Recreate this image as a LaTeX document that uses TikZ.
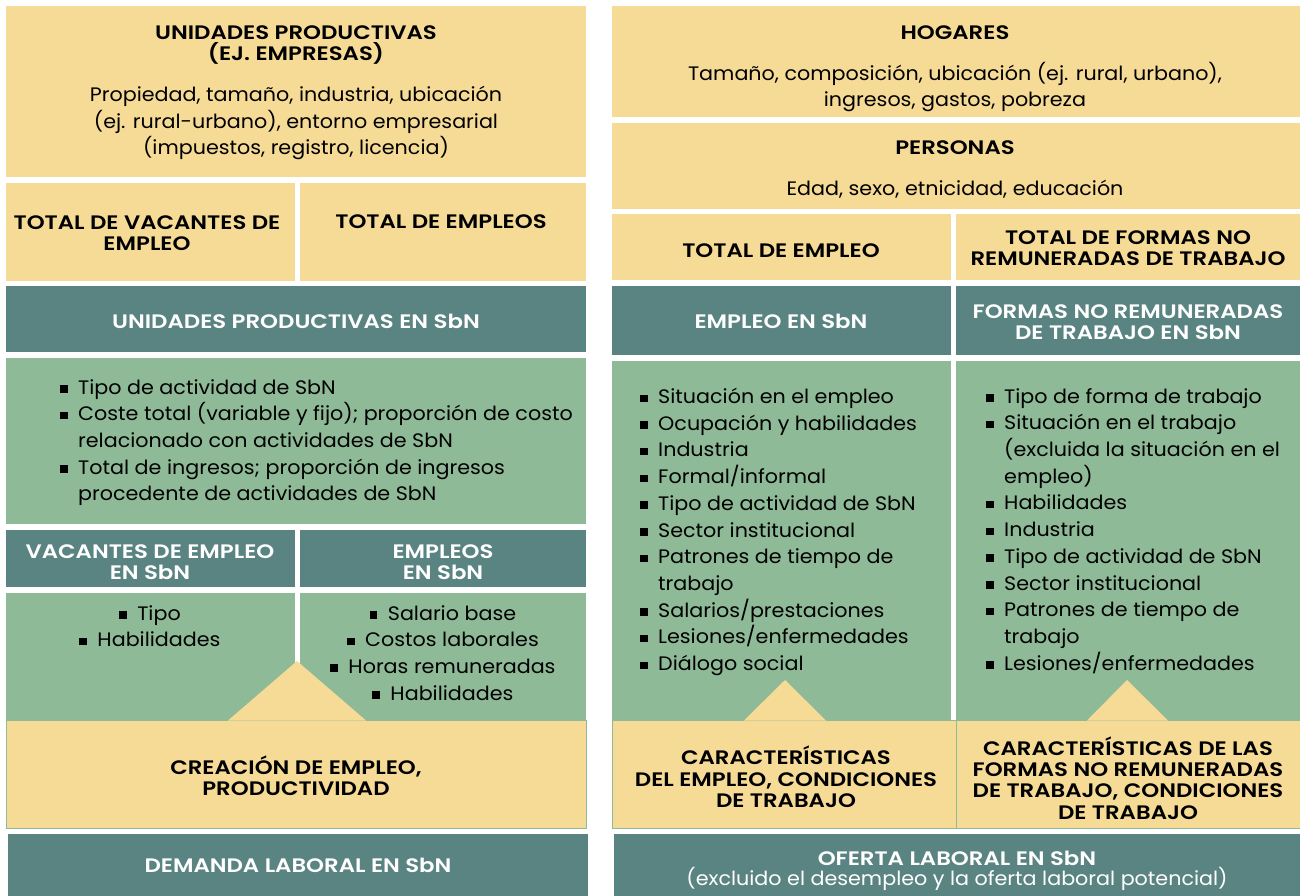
\documentclass[tikz,border=0pt]{standalone}
\usepackage{fontspec}
\setmainfont{Poppins}[FakeStretch=1.06, BoldFont={Poppins SemiBold}, BoldFeatures={FakeStretch=1.17}]
\usepackage{tikz}

\definecolor{sbncream}{HTML}{F6DB97}
\definecolor{sbnteal}{HTML}{5A8482}
\definecolor{sbngreen}{HTML}{8FBA98}

\newcommand{\sq}{\makebox[18pt][l]{\rule[1.5pt]{7.5pt}{7.5pt}}}
\newcommand{\cont}{\hspace*{18pt}}

\tikzset{
  cbox/.style={fill=sbncream, anchor=north west, inner sep=0pt, outer sep=0pt},
  tbox/.style={fill=sbnteal, anchor=north west, inner sep=0pt, outer sep=0pt},
  gbox/.style={fill=sbngreen, anchor=north west, inner sep=0pt, outer sep=0pt},
  fbox/.style={cbox, draw=sbngreen, line width=1pt},
  hd/.style={font=\fontsize{19.5}{21.3}\selectfont\bfseries, align=center, inner sep=0pt},
  hdw/.style={hd, text=white},
  bd/.style={font=\fontsize{19.5}{26.6}\selectfont, align=center, inner sep=0pt},
  lst/.style={font=\fontsize{19.5}{26.7}\selectfont, align=left, inner sep=0pt, anchor=north west},
  clst/.style={font=\fontsize{19.5}{26.7}\selectfont, align=center, inner sep=0pt, anchor=north},
}

\begin{document}
\begin{tikzpicture}[x=1pt,y=-1pt]
  \useasboundingbox (0,0) rectangle (1300,896);

  % demanda (left column)
  \node(UP)[cbox, minimum width=580, minimum height=171] at (6,6) {};
  \node(UPh)[hd] at (296,45) {UNIDADES PRODUCTIVAS\\(EJ. EMPRESAS)};
  \node(UPt)[bd] at (296,123) {Propiedad, tamaño, industria, ubicación\\(ej. rural-urbano), entorno empresarial\\(impuestos, registro, licencia)};

  \node(TV)[cbox, minimum width=289, minimum height=98] at (6,183) {};
  \node(TVh)[hd] at (147,233) {TOTAL DE VACANTES DE\\EMPLEO};
  \node(TE)[cbox, minimum width=286, minimum height=98] at (300,183) {};
  \node(TEh)[hd] at (441,222) {TOTAL DE EMPLEOS};

  \node(UPS)[tbox, minimum width=580, minimum height=66] at (6,286) {};
  \node(UPSh)[hdw] at (296,321) {UNIDADES PRODUCTIVAS EN SbN};
  \node(UPL)[gbox, minimum width=580, minimum height=166] at (6,358) {};
  \node(UPLt)[lst] at (60,379) {\sq Tipo de actividad de SbN\\
    \sq Coste total (variable y fijo); proporción de costo\\
    \cont relacionado con actividades de SbN\\
    \sq Total de ingresos; proporción de ingresos\\
    \cont procedente de actividades de SbN};

  \node(VS)[tbox, minimum width=289, minimum height=57] at (6,530) {};
  \node(VSh)[hdw] at (150,562) {VACANTES DE EMPLEO\\EN SbN};
  \node(ES)[tbox, minimum width=286, minimum height=57] at (300,530) {};
  \node(ESh)[hdw] at (443,562) {EMPLEOS\\EN SbN};
  \node(VL)[gbox, minimum width=289, minimum height=128] at (6,593) {};
  \node(VLt)[clst] at (150,605) {\sq Tipo\\ \sq Habilidades};
  \node(EL)[gbox, minimum width=286, minimum height=128] at (300,593) {};
  \node(ELt)[clst] at (443,605) {\sq Salario base\\ \sq Costos laborales\\ \sq Horas remuneradas\\ \sq Habilidades};

  \node(CE)[fbox, minimum width=580, minimum height=108] at (6,720) {};
  \fill[sbncream] (228,720.5) -- (297,661) -- (366,720.5) -- cycle;
  \node(CEh)[hd] at (296,776) {CREACIÓN DE EMPLEO,\\PRODUCTIVIDAD};

  \node(DL)[tbox, minimum width=580, minimum height=62] at (8,834) {};
  \node(DLh)[hdw] at (298,865) {DEMANDA LABORAL EN SbN};

  % oferta (right column)
  \node(HO)[cbox, minimum width=688, minimum height=111] at (612,6) {};
  \node(HOh)[hd] at (955,33) {HOGARES};
  \node(HOt)[bd] at (955,87) {Tamaño, composición, ubicación (ej. rural, urbano),\\ingresos, gastos, pobreza};

  \node(PE)[cbox, minimum width=688, minimum height=86] at (612,123) {};
  \node(PEh)[hd] at (955,148) {PERSONAS};
  \node(PEt)[bd] at (955,189) {Edad, sexo, etnicidad, educación};

  \node(TO)[cbox, minimum width=339, minimum height=66] at (612,214) {};
  \node(TOh)[hd] at (781,251) {TOTAL DE EMPLEO};
  \node(TF)[cbox, minimum width=344, minimum height=66] at (956,214) {};
  \node(TFh)[hd] at (1128,248) {TOTAL DE FORMAS NO\\REMUNERADAS DE TRABAJO};

  \node(EM)[tbox, minimum width=339, minimum height=69] at (612,286) {};
  \node(EMh)[hdw] at (781,321) {EMPLEO EN SbN};
  \node(FN)[tbox, minimum width=344, minimum height=69] at (956,286) {};
  \node(FNh)[hdw] at (1128,322) {FORMAS NO REMUNERADAS\\DE TRABAJO EN SbN};

  \node(EML)[gbox, minimum width=339, minimum height=360] at (612,361) {};
  \node(EMLt)[lst] at (640,388) {\sq Situación en el empleo\\
    \sq Ocupación y habilidades\\
    \sq Industria\\
    \sq Formal/informal\\
    \sq Tipo de actividad de SbN\\
    \sq Sector institucional\\
    \sq Patrones de tiempo de\\
    \cont trabajo\\
    \sq Salarios/prestaciones\\
    \sq Lesiones/enfermedades\\
    \sq Diálogo social};
  \node(FNL)[gbox, minimum width=344, minimum height=360] at (956,361) {};
  \node(FNLt)[lst] at (986,388) {\sq Tipo de forma de trabajo\\
    \sq Situación en el trabajo\\
    \cont (excluida la situación en el\\
    \cont empleo)\\
    \sq Habilidades\\
    \sq Industria\\
    \sq Tipo de actividad de SbN\\
    \sq Sector institucional\\
    \sq Patrones de tiempo de\\
    \cont trabajo\\
    \sq Lesiones/enfermedades};

  \node(CO)[fbox, minimum width=344, minimum height=108] at (612,720) {};
  \node(CF)[fbox, minimum width=344, minimum height=108] at (956,720) {};
  \fill[sbncream] (744,720.5) -- (785,680) -- (826,720.5) -- cycle;
  \fill[sbncream] (1087,720.5) -- (1127,680) -- (1168,720.5) -- cycle;
  \node(COh)[hd] at (786,777) {CARACTERÍSTICAS\\DEL EMPLEO, CONDICIONES\\DE TRABAJO};
  \node(CFh)[hd] at (1128,778) {CARACTERÍSTICAS DE LAS\\FORMAS NO REMUNERADAS\\DE TRABAJO, CONDICIONES\\DE TRABAJO};

  \node(OL)[tbox, minimum width=686, minimum height=62] at (614,834) {};
  \node(OLh)[hdw] at (957,858) {OFERTA LABORAL EN SbN};
  \node(OLt)[bd, text=white] at (957,879) {(excluido el desempleo y la oferta laboral potencial)};
\end{tikzpicture}
\end{document}
